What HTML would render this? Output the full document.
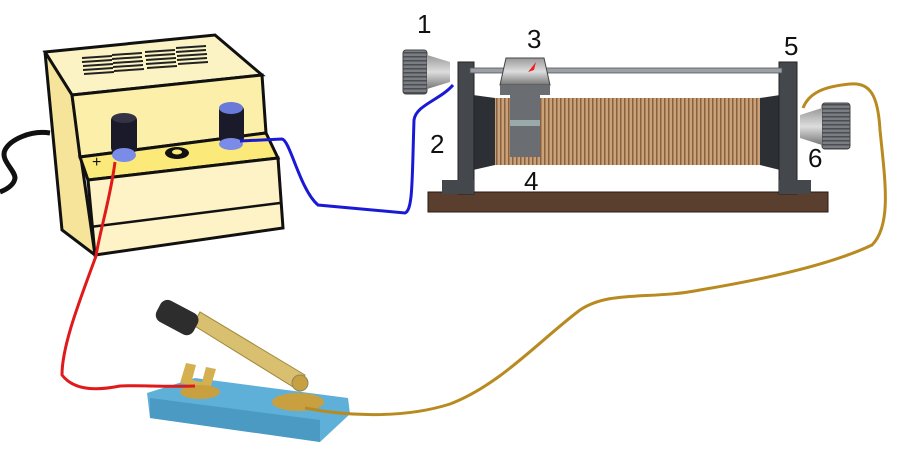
<!DOCTYPE html>
<html><head><style>body{margin:0;background:#fff}svg{display:block}text{font-family:"Liberation Sans",sans-serif;font-size:26px;fill:#111}</style></head><body>
<svg width="900" height="450" viewBox="0 0 900 450" xmlns="http://www.w3.org/2000/svg">
<defs>
<pattern id="coil" width="4" height="10" patternUnits="userSpaceOnUse"><rect width="4" height="10" fill="#c9a27a"/><rect width="1.5" height="10" fill="#8a6040"/></pattern>
<pattern id="rib" width="10" height="4" patternUnits="userSpaceOnUse"><rect width="10" height="4" fill="#7a7e82"/><rect width="10" height="1.5" fill="#4a4e52"/></pattern>
<linearGradient id="gm" x1="0" y1="0" x2="0" y2="1"><stop offset="0" stop-color="#999"/><stop offset=".5" stop-color="#ddd"/><stop offset="1" stop-color="#777"/></linearGradient>
</defs>
<path d="M50,133 C30,130 10,140 5,150 C0,160 15,170 15,178 C14,186 5,190 0,192" stroke="#111" stroke-width="5" fill="none"/>
<polygon points="45,52 215,35 262,75 72,95" fill="#fbf3c4" stroke="#111" stroke-width="3"/>
<polygon points="45,52 72,95 95,255 62,230" fill="#f5e49a" stroke="#111" stroke-width="3"/>
<polygon points="72,95 262,75 266,133 80,157" fill="#fcefa9" stroke="#111" stroke-width="3"/>
<polygon points="80,157 266,133 278,158 88,180" fill="#fbe97a" stroke="#111" stroke-width="3"/>
<polygon points="88,180 278,158 283,228 95,255" fill="#fdf3c6" stroke="#111" stroke-width="3"/>
<line x1="90" y1="227" x2="280" y2="203" stroke="#111" stroke-width="2.5"/>
<g stroke="#222" stroke-width="2">
<path d="M82,58 l30,-2 M82,62 l30,-2 M83,66 l30,-2 M83,70 l30,-2 M84,74 l30,-2"/>
<path d="M112,55 l30,-2 M112,59 l30,-2 M113,63 l30,-2 M113,67 l30,-2 M114,71 l30,-2"/>
<path d="M145,52 l30,-2 M145,56 l30,-2 M146,60 l30,-2 M146,64 l30,-2 M147,68 l30,-2"/>
<path d="M176,48 l30,-2 M176,52 l30,-2 M177,56 l30,-2 M177,60 l30,-2 M178,64 l30,-2"/>
</g>
<rect x="111" y="115" width="26" height="38" rx="5" fill="#1a1a2a"/><ellipse cx="124" cy="155" rx="12" ry="7" fill="#7b8be8"/><ellipse cx="124" cy="118" rx="12" ry="5" fill="#334"/>
<rect x="219" y="105" width="25" height="38" rx="5" fill="#1a1a2a"/><ellipse cx="231" cy="144" rx="12" ry="6" fill="#7b8be8"/><ellipse cx="231" cy="108" rx="12" ry="6" fill="#6a7ad8"/>
<ellipse cx="177" cy="153" rx="12" ry="6" fill="#111"/><ellipse cx="177" cy="152" rx="5" ry="2.5" fill="#fbe97a"/>
<text x="92" y="167" style="font-size:16px">+</text>
<rect x="428" y="192" width="400" height="20" fill="#5a3f2e" stroke="#2a1a10"/>
<rect x="490" y="98" width="272" height="67" fill="url(#coil)"/>
<polygon points="473,95 495,98 495,165 473,170" fill="#2c2f33"/>
<polygon points="780,95 760,98 760,165 780,170" fill="#2c2f33"/>
<rect x="458" y="62" width="16" height="132" fill="#44484d" stroke="#222"/>
<rect x="779" y="62" width="18" height="132" fill="#44484d" stroke="#222"/>
<rect x="442" y="180" width="32" height="14" fill="#44484d"/><rect x="779" y="180" width="32" height="14" fill="#44484d"/>
<rect x="470" y="68" width="312" height="5" fill="#9aa0a6" stroke="#555" stroke-width=".8"/>
<rect x="510" y="95" width="30" height="62" fill="#6a6e73"/>
<rect x="510" y="120" width="30" height="6" fill="#9aa"/>
<polygon points="506,58 544,58 550,85 500,85" fill="url(#gm)" stroke="#444"/>
<rect x="500" y="85" width="50" height="10" fill="#6a6e73"/>
<path d="M528,72 l8,-10 l-2,8 z" fill="#e22"/>
<rect x="403" y="50" width="24" height="44" rx="3" fill="url(#rib)" stroke="#444"/>
<polygon points="427,55 450,62 450,82 427,89" fill="url(#gm)"/>
<rect x="822" y="103" width="28" height="46" rx="3" fill="url(#rib)" stroke="#444"/>
<polygon points="822,108 800,115 800,138 822,145" fill="url(#gm)"/>
<text x="417" y="33">1</text><text x="527" y="48">3</text><text x="784" y="55">5</text>
<text x="430" y="153">2</text><text x="524" y="190">4</text><text x="808" y="167">6</text>
<polygon points="147,393 195,378 348,398 350,414 320,442 150,418" fill="#5fb0d8"/>
<polygon points="150,398 320,420 320,442 150,418" fill="#4a9ac4"/>
<polygon points="305,375 200,312 193,325 298,390" fill="#d8c070" stroke="#a08838"/>
<g transform="rotate(28 178 318)"><rect x="156" y="306" width="42" height="24" rx="8" fill="#2d2d2d"/></g>
<path d="M180,383 l6,-20 l10,2 -4,15 l10,2 4,-15 10,2 -6,20 z" fill="#d4b050"/>
<ellipse cx="200" cy="392" rx="20" ry="7" fill="#c8a040"/>
<ellipse cx="298" cy="402" rx="26" ry="9" fill="#c8a040"/>
<circle cx="300" cy="383" r="8" fill="#c8a040" stroke="#886"/>
<path d="M240,141 L282,139 C290,140 300,190 318,205 L405,213 C413,210 412,180 414,120 C416,105 440,100 453,85" stroke="#1a1ad6" stroke-width="3" fill="none"/>
<path d="M115,162 C110,200 100,230 96,256 C80,300 62,345 62,375 C75,392 100,390 120,386 C140,385 160,387 195,386" stroke="#e01a1a" stroke-width="3" fill="none"/>
<path d="M305,408 C340,415 400,420 450,404 C500,385 540,340 580,310 C610,290 650,300 700,290 C760,280 830,265 872,245 C892,225 885,180 880,130 C878,95 870,82 850,84 C830,86 810,90 803,108" stroke="#b88a20" stroke-width="3" fill="none"/>
</svg>
</body></html>
